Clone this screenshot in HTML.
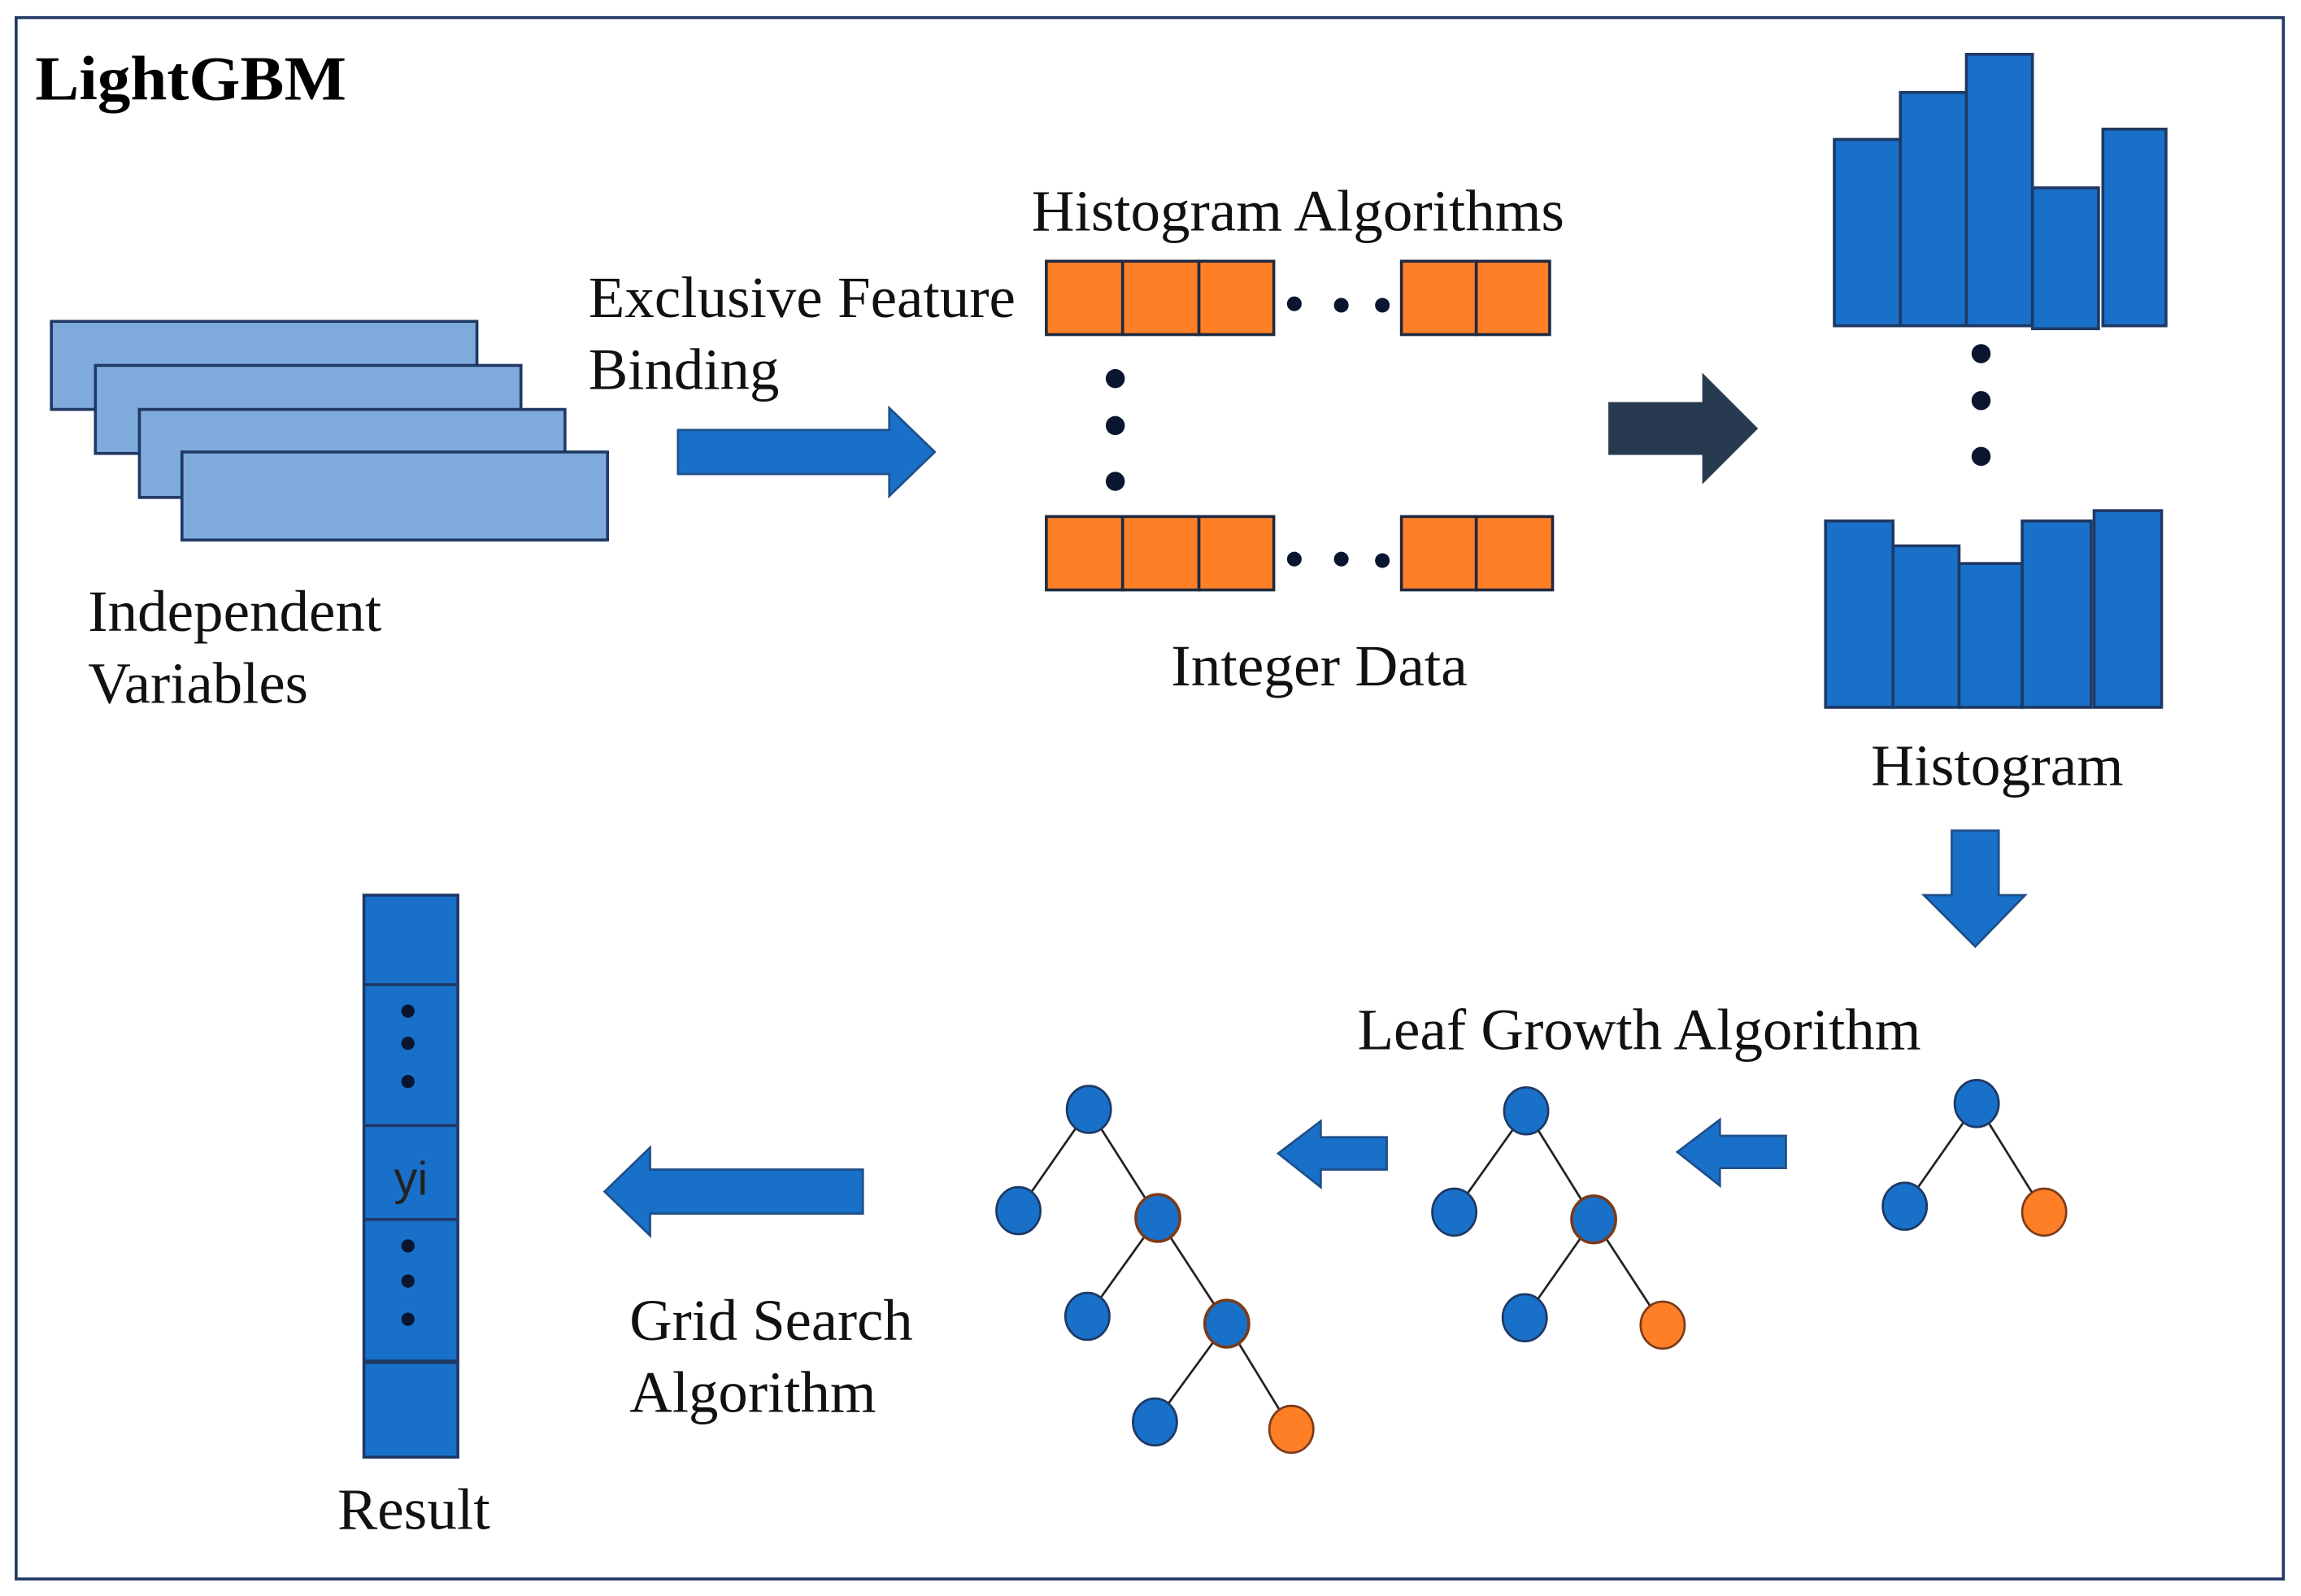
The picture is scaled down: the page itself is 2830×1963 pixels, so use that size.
<!DOCTYPE html>
<html><head><meta charset="utf-8"><style>html,body{margin:0;padding:0;background:#fff}svg{display:block}</style></head>
<body>
<svg width="2830" height="1963" viewBox="0 0 1568 1087.6" preserveAspectRatio="none" xmlns="http://www.w3.org/2000/svg" font-family="'Liberation Serif', serif">
<rect x="0" y="0" width="1568" height="1088" fill="#fff"/>
<rect x="11" y="12" width="1545" height="1064" fill="none" stroke="#1F3864" stroke-width="2"/>
<text x="24" y="68" font-size="43" font-weight="bold" textLength="212" lengthAdjust="spacingAndGlyphs">LightGBM</text>

<g fill="#7FAADC" stroke="#1F3864" stroke-width="2">
<rect x="35" y="219" width="290" height="60"/>
<rect x="65" y="249" width="290" height="60"/>
<rect x="95" y="279" width="290" height="60"/>
<rect x="124" y="308" width="290" height="60"/>
</g>
<g font-size="40" fill="#111">
<text x="60" y="430" textLength="200" lengthAdjust="spacingAndGlyphs">Independent</text>
<text x="60" y="479" textLength="150" lengthAdjust="spacingAndGlyphs">Variables</text>
<text x="401" y="216" textLength="291" lengthAdjust="spacingAndGlyphs">Exclusive Feature</text>
<text x="401" y="265" textLength="130" lengthAdjust="spacingAndGlyphs">Binding</text>
<text x="703" y="157" textLength="363" lengthAdjust="spacingAndGlyphs">Histogram Algorithms</text>
<text x="798" y="467" textLength="202" lengthAdjust="spacingAndGlyphs">Integer Data</text>
<text x="1275" y="535" textLength="172" lengthAdjust="spacingAndGlyphs">Histogram</text>
<text x="925" y="715" textLength="384" lengthAdjust="spacingAndGlyphs">Leaf Growth Algorithm</text>
<text x="429" y="913" textLength="193" lengthAdjust="spacingAndGlyphs">Grid Search</text>
<text x="429" y="962" textLength="168" lengthAdjust="spacingAndGlyphs">Algorithm</text>
<text x="230" y="1042" textLength="104" lengthAdjust="spacingAndGlyphs">Result</text>
</g>

<polygon points="462,293 606,293 606,278 637,308 606,338 606,323 462,323" fill="#1870C8" stroke="#1F4E89" stroke-width="1.5"/>
<polygon points="1096,274 1160,274 1160,254 1198,292 1160,330 1160,310 1096,310" fill="#283A4F"/>
<polygon points="1330,566 1362,566 1362,610 1380,610 1346,645 1311,610 1330,610" fill="#1870C8" stroke="#1F4E89" stroke-width="1.5"/>
<polygon points="1217,774 1172,774 1172,763 1143,785 1172,808 1172,796 1217,796" fill="#1870C8" stroke="#1F4E89" stroke-width="1.5"/>
<polygon points="945,775 900,775 900,764 871,786 900,809 900,797 945,797" fill="#1870C8" stroke="#1F4E89" stroke-width="1.5"/>
<polygon points="588,797 443,797 443,782 412,812 443,842 443,827 588,827" fill="#1870C8" stroke="#1F4E89" stroke-width="1.5"/>

<g fill="#FF7F27" stroke="#1F2A40" stroke-width="2">
<rect x="713" y="178" width="52" height="50"/><rect x="765" y="178" width="52" height="50"/><rect x="817" y="178" width="51" height="50"/>
<rect x="955" y="178" width="51" height="50"/><rect x="1006" y="178" width="50" height="50"/>
<rect x="713" y="352" width="52" height="50"/><rect x="765" y="352" width="52" height="50"/><rect x="817" y="352" width="51" height="50"/>
<rect x="955" y="352" width="51" height="50"/><rect x="1006" y="352" width="52" height="50"/>
</g>
<g fill="#0A1530">
<circle cx="882" cy="207" r="5"/><circle cx="914" cy="208" r="5"/><circle cx="942" cy="208" r="5"/>
<circle cx="882" cy="381" r="5"/><circle cx="914" cy="381" r="5"/><circle cx="942" cy="382" r="5"/>
<circle cx="760" cy="258" r="6.5"/><circle cx="760" cy="290" r="6.5"/><circle cx="760" cy="328" r="6.5"/>
<circle cx="1350" cy="241" r="6.5"/><circle cx="1350" cy="273" r="6.5"/><circle cx="1350" cy="311" r="6.5"/>
</g>

<g fill="#1870C8" stroke="#1F3864" stroke-width="2">
<rect x="1250" y="95" width="45" height="127"/><rect x="1295" y="63" width="45" height="159"/><rect x="1340" y="37" width="45" height="185"/>
<rect x="1385" y="128" width="45" height="96"/><rect x="1433" y="88" width="43" height="134"/>
<rect x="1244" y="355" width="46" height="127"/><rect x="1290" y="372" width="45" height="110"/><rect x="1335" y="384" width="43" height="98"/>
<rect x="1378" y="355" width="47" height="127"/><rect x="1427" y="348" width="46" height="134"/>
</g>

<g stroke="#222" stroke-width="1.5">
<line x1="1347" y1="752" x2="1298" y2="822"/><line x1="1347" y1="752" x2="1393" y2="826"/>
<line x1="1040" y1="757" x2="991" y2="826"/><line x1="1040" y1="757" x2="1086" y2="831"/>
<line x1="1086" y1="831" x2="1039" y2="898"/><line x1="1086" y1="831" x2="1133" y2="903"/>
<line x1="742" y1="756" x2="694" y2="825"/><line x1="742" y1="756" x2="789" y2="830"/>
<line x1="789" y1="830" x2="741" y2="897"/><line x1="789" y1="830" x2="836" y2="902"/>
<line x1="836" y1="902" x2="787" y2="969"/><line x1="836" y1="902" x2="880" y2="974"/>
</g>
<g fill="#1870C8" stroke="#1F3864" stroke-width="1.5">
<ellipse cx="1347" cy="752" rx="15" ry="16"/><ellipse cx="1298" cy="822" rx="15" ry="16"/>
<ellipse cx="1040" cy="757" rx="15" ry="16"/><ellipse cx="991" cy="826" rx="15" ry="16"/><ellipse cx="1039" cy="898" rx="15" ry="16"/>
<ellipse cx="742" cy="756" rx="15" ry="16"/><ellipse cx="694" cy="825" rx="15" ry="16"/><ellipse cx="741" cy="897" rx="15" ry="16"/><ellipse cx="787" cy="969" rx="15" ry="16"/>
</g>
<g fill="#1870C8" stroke="#7A3B1A" stroke-width="2">
<ellipse cx="1086" cy="831" rx="15" ry="16"/><ellipse cx="789" cy="830" rx="15" ry="16"/><ellipse cx="836" cy="902" rx="15" ry="16"/>
</g>
<g fill="#FF7F27" stroke="#7A3B1A" stroke-width="1.5">
<ellipse cx="1393" cy="826" rx="15" ry="16"/><ellipse cx="1133" cy="903" rx="15" ry="16"/><ellipse cx="880" cy="974" rx="15" ry="16"/>
</g>

<rect x="248" y="610" width="64" height="383" fill="#1870C8" stroke="#1F3864" stroke-width="2"/>
<g stroke="#1F3864" stroke-width="2">
<line x1="248" y1="671" x2="312" y2="671"/><line x1="248" y1="767" x2="312" y2="767"/>
<line x1="248" y1="831" x2="312" y2="831"/><line x1="248" y1="928" x2="312" y2="928" stroke-width="3"/>
</g>
<g fill="#0A1530">
<circle cx="278" cy="689" r="4.5"/><circle cx="278" cy="711" r="4.5"/><circle cx="278" cy="737" r="4.5"/>
<circle cx="278" cy="849" r="4.5"/><circle cx="278" cy="873" r="4.5"/><circle cx="278" cy="899" r="4.5"/>
</g>
<text x="280" y="814" font-size="32" font-family="'Liberation Sans', sans-serif" text-anchor="middle" fill="#222">yi</text>
</svg>
</body></html>
